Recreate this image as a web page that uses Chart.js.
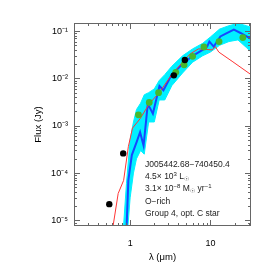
<!DOCTYPE html>
<html><head><meta charset="utf-8">
<script src="https://cdn.jsdelivr.net/npm/chart.js@4.4.0/dist/chart.umd.min.js"></script>
<style>html,body{margin:0;padding:0;background:#fff}#wrap{width:273px;height:273px}</style>
</head><body><div id="wrap"><canvas id="c" width="273" height="273"></canvas></div>
<script>
// ---- data ----
const blackX = [0.55, 0.82, 3.5, 4.8];
const blackY = [2.2e-5, 2.6e-4, 0.0116, 0.0245];
const greenX = [1.27, 1.73, 2.26, 3.7, 4.7, 6.0, 8.3, 12.8, 25.3];
const greenY = [1.7e-3, 3.1e-3, 5.0e-3, 0.0134, 0.0194, 0.0293, 0.046, 0.060, 0.073];
const redX = [0.6, 0.71, 0.83, 0.95, 1.07, 1.33, 1.73, 2.3, 3.3, 4.8, 5.6, 7.1, 10.5, 11.5, 12.7, 18.6, 32];
const redY = [6e-6, 3.7e-5, 7e-5, 3.6e-4, 8.9e-4, 1.4e-3, 2.9e-3, 5e-3, 0.012, 0.025, 0.033, 0.042, 0.040, 0.047, 0.036, 0.023, 0.012];
const blueX = [0.9, 0.95, 1.05, 1.21, 1.33, 1.47, 1.66, 1.92, 2.32, 2.6, 3.3, 4.5, 6, 8, 9.1, 9.7, 11, 13.3, 16, 19.6, 23.7, 32];
const blueY = [6e-6, 7e-5, 2.4e-4, 4.6e-4, 7.3e-4, 3.8e-4, 2.9e-3, 1.8e-3, 6.9e-3, 5.6e-3, 0.012, 0.02, 0.03, 0.040, 0.047, 0.06, 0.047, 0.077, 0.09, 0.107, 0.091, 0.068];
const bandX = [0.82, 0.9, 1.0, 1.1, 1.2, 1.35, 1.5, 1.7, 2.0, 2.3, 2.7, 3.3, 4.5, 6, 8, 10, 13, 17, 22, 28, 32];
const bandUpper = [6e-6, 6e-5, 5e-4, 1.2e-3, 2.2e-3, 3e-3, 4.5e-3, 5e-3, 6e-3, 9e-3, 0.012, 0.018, 0.03, 0.042, 0.055, 0.075, 0.11, 0.13, 0.145, 0.13, 0.12];
const bandLower = [1e-6, 3e-6, 3e-5, 1e-4, 2e-4, 3e-4, 2.5e-4, 1.2e-3, 1.2e-3, 3.5e-3, 3.5e-3, 7e-3, 0.013, 0.022, 0.03, 0.036, 0.05, 0.06, 0.065, 0.045, 0.036];
const xTicks = [1, 10];
const xTickLabels = ['1', '10'];
const yTicks = [1e-5, 1e-4, 1e-3, 1e-2, 1e-1];
const yTickLabels = ['10\u207B\u2075', '10\u207B\u2074', '10\u207B\u00B3', '10\u207B\u00B2', '10\u207B\u00B9'];
const infoLines = [
  [['J005442.68\u2212740450.4', 0]],
  [['4.5\u00D7 10', 0], ['3', 1], [' L', 0], ['\u2609', -1]],
  [['3.1\u00D7 10', 0], ['\u22128', 1], [' M', 0], ['\u2609', -1], [' yr', 0], ['\u22121', 1]],
  [['O\u2212rich', 0]],
  [['Group 4, opt. C star', 0]]
];

const pts = (xs, ys) => xs.map((x, i) => ({x, y: ys[i]}));
const FONT = '"Liberation Sans", Arial, sans-serif';

const frameTicks = {
  id: 'frameTicks',
  afterDatasetsDraw(chart) {
    const {ctx, chartArea: a, scales: {x, y}} = chart;
    ctx.save();
    ctx.strokeStyle = '#666';
    ctx.lineWidth = 1;
    ctx.strokeRect(a.left + 0.5, a.top + 0.5, a.right - a.left - 1, a.bottom - a.top - 1);
    ctx.beginPath();
    for (let k = -2; k <= 2; k++) for (let m = 1; m <= 9; m++) {
      const v = m * Math.pow(10, k);
      if (v < x.min || v > x.max) continue;
      const px = Math.round(x.getPixelForValue(v)) + 0.5;
      const L = m === 1 ? 6 : 3;
      ctx.moveTo(px, a.bottom); ctx.lineTo(px, a.bottom - L);
      ctx.moveTo(px, a.top); ctx.lineTo(px, a.top + L);
    }
    for (let k = -7; k <= 0; k++) for (let m = 1; m <= 9; m++) {
      const v = m * Math.pow(10, k);
      if (v < y.min || v > y.max) continue;
      const py = Math.round(y.getPixelForValue(v)) + 0.5;
      const L = m === 1 ? 6 : 3;
      ctx.moveTo(a.left, py); ctx.lineTo(a.left + L, py);
      ctx.moveTo(a.right, py); ctx.lineTo(a.right - L, py);
    }
    ctx.stroke();
    // annotation text
    ctx.fillStyle = '#222';
    ctx.textBaseline = 'alphabetic';
    let ty = 167;
    const tx = a.left + 71;
    for (const line of infoLines) {
      let cx = tx;
      for (const [t, s] of line) {
        const size = s === 0 ? 8.5 : 6;
        const fam = t === '\u2609' ? '"DejaVu Sans", sans-serif' : FONT;
        ctx.font = size + 'px ' + fam;
        const dy = s === 1 ? -3.5 : (s === -1 ? 1.5 : 0);
        ctx.fillText(t, cx, ty + dy);
        cx += ctx.measureText(t).width;
      }
      ty += 12.2;
    }
    ctx.restore();
  }
};

new Chart(document.getElementById('c'), {
  type: 'scatter',
  data: {
    datasets: [
      {data: pts(blackX, blackY), backgroundColor: '#000', borderWidth: 0, pointRadius: 3.2, order: 0},
      {data: pts(greenX, greenY), backgroundColor: '#46b82e', borderWidth: 0, pointRadius: 3.4, order: 0},
      {data: pts(redX, redY), showLine: true, borderColor: '#ff3535', borderWidth: 1, pointRadius: 0, order: 1},
      {data: pts(blueX, blueY), showLine: true, borderColor: '#1646ff', borderWidth: 2, pointRadius: 0, order: 2},
      {data: pts(bandX, bandLower), showLine: true, borderColor: '#00f0ff', borderWidth: 1, pointRadius: 0, order: 3},
      {data: pts(bandX, bandUpper), showLine: true, borderColor: '#00f0ff', borderWidth: 1, pointRadius: 0, fill: 4, backgroundColor: '#00f0ff', order: 4}
    ]
  },
  options: {
    responsive: false, animation: false, devicePixelRatio: 1,
    layout: {padding: {left: 0, right: 22, top: 23, bottom: 0}},
    plugins: {legend: {display: false}, tooltip: {enabled: false}},
    scales: {
      x: {
        type: 'logarithmic', min: 0.2, max: 32,
        afterBuildTicks: s => { s.ticks = xTicks.map(v => ({value: v})); },
        afterFit: s => { s.height = 47; },
        grid: {display: false, drawTicks: false},
        border: {display: false},
        ticks: {padding: 12, color: '#000', font: {family: FONT, size: 9}, maxRotation: 0,
          callback: (v) => xTickLabels[xTicks.indexOf(v)] ?? ''},
        title: {display: true, text: '\u03BB (\u03BCm)', color: '#000', font: {family: FONT, size: 9.5}, padding: {top: 0, bottom: 10}}
      },
      y: {
        type: 'logarithmic', min: 7.6e-6, max: 0.148,
        afterBuildTicks: s => { s.ticks = yTicks.map(v => ({value: v})); },
        afterFit: s => { s.width = 74; },
        grid: {display: false, drawTicks: false},
        border: {display: false},
        ticks: {padding: 6, color: '#000', font: {family: FONT, size: 9},
          callback: (v) => { const i = yTicks.findIndex(t => Math.abs(t - v) / t < 1e-6); return i >= 0 ? yTickLabels[i] : ''; }},
        title: {display: true, text: 'Flux (Jy)', color: '#000', font: {family: FONT, size: 9.5}, padding: {top: 33, bottom: 0}}
      }
    }
  },
  plugins: [frameTicks]
});
</script></body></html>
